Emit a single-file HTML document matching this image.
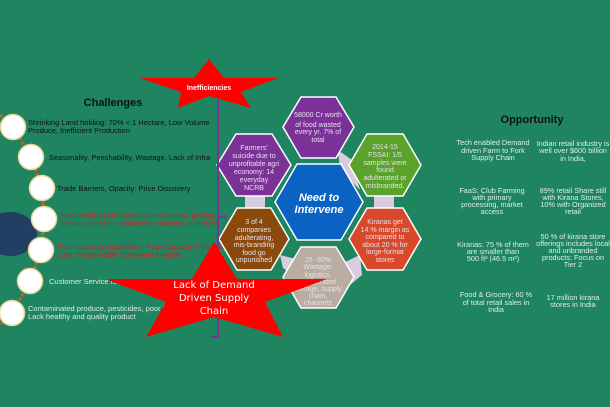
<!DOCTYPE html>
<html><head><meta charset="utf-8"><style>
html,body{margin:0;padding:0;background:#1e8560;}
svg{display:block;font-family:"Liberation Sans",Arial,sans-serif;}
</style></head><body>
<svg width="610" height="407" viewBox="0 0 610 407" xmlns="http://www.w3.org/2000/svg">
<rect width="610" height="407" fill="#1e8560"/>
<!-- chain -->
<polyline points="0,115 13,127 31,157 42,188 44,219 41,250 30,281 12,313 0,325" fill="none" stroke="#c8622a" stroke-width="3" stroke-dasharray="3,2"/>
<ellipse cx="10" cy="234" rx="27" ry="22" fill="#203f63"/>
<g fill="#fff" stroke="#e8d89a" stroke-width="1.5">
<circle cx="13" cy="127" r="12.5"/><circle cx="31" cy="157" r="12.5"/><circle cx="42" cy="188" r="12.5"/>
<circle cx="44" cy="219" r="12.5"/><circle cx="41" cy="250" r="12.5"/><circle cx="30" cy="281" r="12.5"/><circle cx="12" cy="313" r="12.5"/>
</g>
<text x="113" y="106" font-size="11" font-weight="bold" text-anchor="middle" fill="#111">Challenges</text>
<g font-size="7.5" fill="#111">
<text x="28" y="125">Shrinking Land holding: 70% &lt; 1 Hectare, Low Volume</text>
<text x="28" y="133">Produce, Inefficient Production</text>
<text x="49" y="160">Seasonality, Perishability, Wastage, Lack of Infra</text>
<text x="57" y="191">Trade Barriers, Opacity: Price Discovery</text>
</g>
<g font-size="7.5" fill="#c0282a">
<text x="61" y="218">Poor retailing mix: product assortment, pricing,</text>
<text x="61" y="226">location, service, ambience, customer interface</text>
<text x="57" y="249">Poor sourcing negotiation: Poor Capacity Utilization</text>
<text x="57" y="257">Lack of actionable Consumer insights</text>
</g>
<g font-size="7.5" fill="#e0ece6">
<text x="49" y="284">Customer Service Issues</text>
<text x="28" y="311">Contaminated produce, pesticides, poor hygiene</text>
<text x="28" y="319">Lack healthy and quality product</text>
</g>
<!-- connector lavender -->
<g fill="#d8cde0">
<polygon points="338,150 352,160 360,190 340,170"/>
<polygon points="245,190 265,190 265,212 245,212"/>
<polygon points="374,192 394,192 394,214 374,214"/>
<polygon points="280,255 300,260 300,280 283,268"/>
<polygon points="345,262 360,255 362,275 350,285"/>
</g>
<!-- hexagons -->
<g stroke="#fff" stroke-width="1.5">
<polygon points="283,127 301,97 336,97 354,127 336,158 301,158" fill="#7b3296"/>
<polygon points="217,165 236,134 272,134 291,165 272,196 236,196" fill="#7b3296"/>
<polygon points="349,165 367,134 403,134 421,165 403,196 367,196" fill="#5aa22a"/>
<polygon points="219,239 237,208 271,208 289,239 271,270 237,270" fill="#8a4a0c"/>
<polygon points="349,239 367,208 403,208 421,239 403,270 367,270" fill="#d9482a"/>
<polygon points="283,277 301,247 336,247 354,277 336,308 301,308" fill="#b8ada0"/>
<polygon points="275,202 297,164 341,164 363,202 341,240 297,240" fill="#0a62c2"/>
</g>
<g font-size="7" fill="#e8e0ee" text-anchor="middle">
<text x="318" y="117">58000 Cr worth</text><text x="318" y="127">of food wasted</text><text x="318" y="134">every yr.  7% of</text><text x="318" y="142">total</text>
<text x="254" y="150">Farmers'</text><text x="254" y="158">suicide due to</text><text x="254" y="166">unprofitable agri</text><text x="254" y="174">economy:  14</text><text x="254" y="182">everyday</text><text x="254" y="190">NCRB</text>
<text x="385" y="149">2014-15</text><text x="385" y="157">FSSAI:  1/5</text><text x="385" y="165">samples were</text><text x="385" y="172">found</text><text x="385" y="180">adulterated or</text><text x="385" y="188">misbranded.</text>
<text x="254" y="224">3 of 4</text><text x="254" y="232">companies</text><text x="254" y="240">adulterating,</text><text x="254" y="247">mis-branding</text><text x="254" y="255">food go</text><text x="254" y="262">unpunished</text>
<text x="385" y="224">Kiranas get</text><text x="385" y="232">14 % margin as</text><text x="385" y="239">compared to</text><text x="385" y="247">about 20 % for</text><text x="385" y="254">large-format</text><text x="385" y="262">stores</text>
<text x="318" y="262">25 -30%</text><text x="318" y="269">Wastage:</text><text x="318" y="277">logistics,</text><text x="318" y="284">refrigerated</text><text x="318" y="291">storage, supply</text><text x="318" y="298">chain,</text><text x="318" y="305">channels</text>
</g>
<text x="319" y="201" font-size="11" font-weight="bold" font-style="italic" fill="#fff" text-anchor="middle">Need to</text>
<text x="319" y="213" font-size="11" font-weight="bold" font-style="italic" fill="#fff" text-anchor="middle">Intervene</text>
<!-- purple line -->
<polyline points="218,100 218,337 211,337" fill="none" stroke="#7b3296" stroke-width="2"/>
<line x1="218" y1="217" x2="227" y2="217" stroke="#7b3296" stroke-width="2"/>
<!-- stars -->
<polygon points="209,59 224,78 278,78 241,92 251,108 209,96 178,108 181,92 140,78 194,78" fill="#f00"/>
<text x="209" y="90" font-size="7" font-weight="bold" fill="#fff" text-anchor="middle">Inefficiencies</text>
<polygon points="214,242 237,279 327,279 265,302 283,337 214,317 146,337 166,302 105,279 192,279" fill="#f00"/>
<g font-size="10" fill="#fff" text-anchor="middle" font-family="DejaVu Sans,sans-serif">
<text x="214" y="288">Lack of Demand</text><text x="214" y="301">Driven Supply</text><text x="214" y="314">Chain</text>
</g>
<!-- opportunity -->
<text x="532" y="123" font-size="11" font-weight="bold" fill="#111" text-anchor="middle">Opportunity</text>
<g font-size="7.3" fill="#dfeee6" text-anchor="middle">
<text x="493" y="145">Tech enabled Demand</text><text x="493" y="153">driven Farm to Fork</text><text x="493" y="160">Supply Chain</text>
<text x="573" y="146">Indian retail industry is</text><text x="573" y="153">well over $600 billion</text><text x="573" y="161">in India,</text>
<text x="492" y="193">FaaS: Club Farming</text><text x="492" y="200">with primary</text><text x="492" y="207">processing, market</text><text x="492" y="214">access</text>
<text x="573" y="193">89% retail Share still</text><text x="573" y="200">with Kirana Stores,</text><text x="573" y="207">10% with Organized</text><text x="573" y="214">retail</text>
<text x="493" y="247">Kiranas: 75 % of them</text><text x="493" y="254">are smaller than</text><text x="493" y="261">500 ft² (46.5 m²)</text>
<text x="573" y="239">50 % of kirana store</text><text x="573" y="246">offerings includes local</text><text x="573" y="253">and unbranded</text><text x="573" y="260">products: Focus on</text><text x="573" y="267">Tier 2</text>
<text x="496" y="297">Food &amp; Grocery: 60 %</text><text x="496" y="305">of total retail sales in</text><text x="496" y="312">India</text>
<text x="573" y="300">17 million kirana</text><text x="573" y="307">stores in India</text>
</g>
</svg>
</body></html>
